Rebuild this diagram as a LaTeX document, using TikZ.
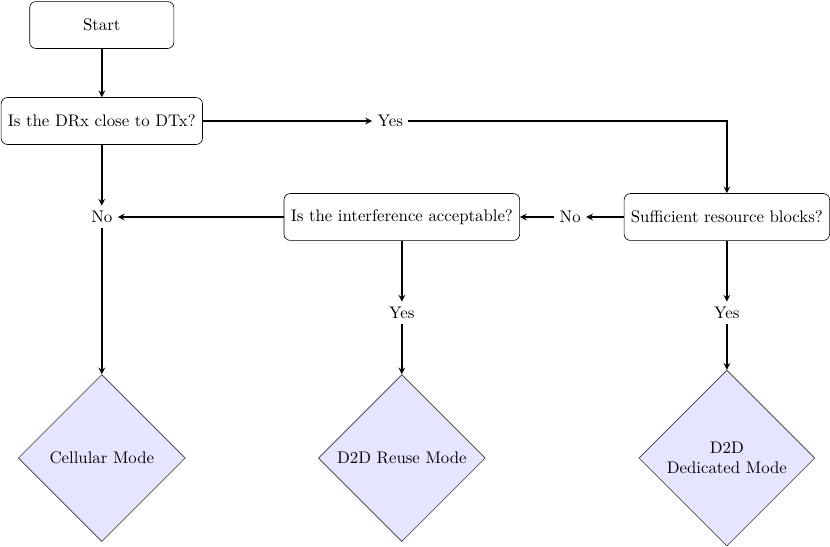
\documentclass[tikz,border=0pt]{standalone}
\usepackage{amsmath}
\usepackage{tikz}
\usetikzlibrary{arrows,positioning,calc,shapes.geometric}

\begin{document}
\begin{tikzpicture}[
			font=\fontsize{10.7}{12.8}\selectfont,
			box/.style={rectangle,rounded corners=4pt,draw=black,thin,minimum height=1.05cm,inner xsep=4.3pt},
			dmd/.style={diamond,draw=black!80,thin,fill=blue!10,minimum width=3.74cm,minimum height=3.74cm,align=center,inner sep=0pt},
			arr/.style={-stealth,line width=0.9pt}]
		\useasboundingbox (0,0) rectangle (18.59,-12.23);
		\path 	(2.28,-0.56) 	node 	(start) [box, minimum width=3.23cm] {Start}
		        (2.28,-2.71) 	node 	(q1) [box] {Is the DRx close to DTx?}
		        (8.74,-2.71) 	node 	(yes1) {Yes}
		        (16.28,-4.86) 	node 	(q2) [box] {Sufficient resource blocks?}
		        (12.77,-4.86) 	node 	(no2) {No}
		        (9.00,-4.86) 	node 	(q3) [box] {Is the interference acceptable?}
		        (2.28,-4.86) 	node 	(no1) {No}
		        (9.00,-7.01) 	node 	(yes2) {Yes}
		        (16.28,-7.01) 	node 	(yes3) {Yes};
		\path 	(2.28,-10.26) 	node 	(cell) [dmd] {Cellular Mode}
		        (9.00,-10.26) 	node 	(reuse) [dmd] {D2D Reuse Mode}
		        (16.28,-10.26) 	node 	(ded) [dmd, minimum width=3.94cm, minimum height=3.94cm] {D2D\\Dedicated Mode};
		\draw [arr] (start) -- (q1);
		\draw [arr] (q1) -- (yes1);
		\draw [arr] (yes1) -| (q2);
		\draw [arr] (q1) -- (no1);
		\draw [arr] (q2) -- (no2);
		\draw [arr] (no2) -- (q3);
		\draw [arr] (q3) -- (no1);
		\draw [arr] (no1) -- (cell);
		\draw [arr] (q3) -- (yes2);
		\draw [arr] (yes2) -- (reuse);
		\draw [arr] (q2) -- (yes3);
		\draw [arr] (yes3) -- (ded);
	\end{tikzpicture}
\end{document}
